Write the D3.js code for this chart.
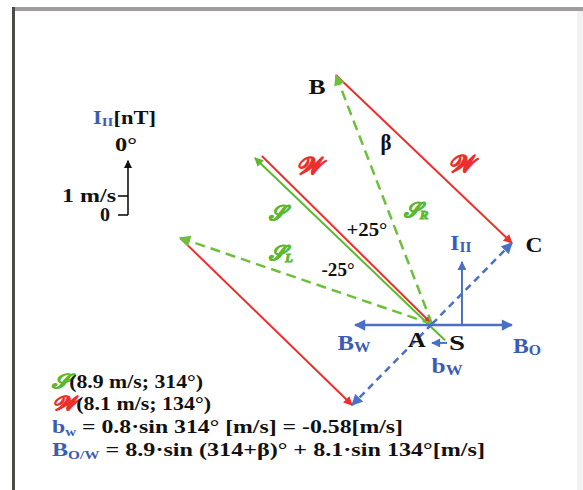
<!DOCTYPE html>
<html><head><meta charset="utf-8">
<script src="https://cdn.jsdelivr.net/npm/d3@7"></script>
<style>body{margin:0;background:#fff}svg{display:block}</style>
</head><body>
<script>
// ---- data (diagram units: m/s, x = east, y = north; A at origin) ----
const vecNames = ["S","W_par","W_BC","W_LD","S_R","S_L","AC","AD","B_W","B_O","I_II","b_w"];
const vecKind  = ["green","red","red","red","greenDash","greenDash","blueDash","blueDash","blue","blue","blue","blue"];
const vecFrom  = [[0.48,-0.6],[-6.30,6.22],[-3.56,9.22],[-9.33,3.19],[0,0],[0,0],[0,0],[0,0],[0,-0.04],[0,-0.04],[1.11,-0.04],[0.56,-0.70]];
const vecTo    = [[-6.56,6.15],[0,0],[2.96,3.0],[-2.96,-3.0],[-3.56,9.22],[-9.33,3.19],[2.96,3.0],[-2.96,-3.0],[-2.85,-0.04],[2.96,-0.04],[1.11,2.30],[0.0,-0.70]];

const labelText  = ["B","C","A","S","β","+25°","-25°"];
const labelPos   = [[-4.26,8.70],[3.78,2.85],[-0.56,-0.67],[0.93,-0.78],[-1.70,6.63],[-2.41,3.41],[-3.48,1.93]];
const labelWidth = [17,17,18,16,11,41,33];

const scriptLabels = ["𝒲","𝒲","𝒮","𝒮","𝒮"];
const scriptSubs   = ["","","","R","L"];
const scriptKind   = ["red","red","green","green","green"];
const scriptPos    = [[-4.56,5.78],[1.07,5.85],[-5.74,4.04],[-0.59,4.15],[-5.59,2.56]];

const blueLabels = ["I","B","B","b"];
const blueSubs   = ["II","W","O","W"];
const bluePos    = [[1.07,2.93],[-2.89,-0.78],[3.52,-0.89],[0.56,-1.63]];
const blueWidth  = [21,33,28,31];

const scaleTicks = [0, 1];
const scaleTickLabels = ["0", "1 m/s"];
const scaleTop = 2.85;

const legendSymbols = ["𝒮","𝒲"];
const legendValues  = ["(8.9 m/s; 314°)","(8.1 m/s; 134°)"];
const legendWidths  = [151,159,351,433];

// ---- drawing ----
const W = 583, H = 490;
const svg = d3.select("body").append("svg").attr("width", W).attr("height", H);
const x = d3.scaleLinear().domain([0, 1]).range([432, 459]);
const y = d3.scaleLinear().domain([0, 1]).range([324, 297]);

const colors = {green:"#5cb82e", red:"#ec2f2a", blue:"#4a6fc4", greenDash:"#6cc03a", blueDash:"#4a70c8", black:"#111"};
const textBlue = "#3b5cb5";
const serif = "'Liberation Serif','DejaVu Serif',serif";

// frame
svg.append("rect").attr("x",577).attr("y",11).attr("width",6).attr("height",H-11).attr("fill","#f2f2f2");
svg.append("line").attr("x1",12).attr("x2",W).attr("y1",9).attr("y2",9).attr("stroke","#a29b9b").attr("stroke-width",4);
svg.append("line").attr("x1",13.5).attr("x2",13.5).attr("y1",7).attr("y2",H).attr("stroke","#4d4a4a").attr("stroke-width",3);

const defs = svg.append("defs");
Object.entries(colors).forEach(([k,c]) => {
  defs.append("marker").attr("id","m-"+k).attr("viewBox","0 0 10 10").attr("refX",9).attr("refY",5)
    .attr("markerWidth",k==="black"?6:5).attr("markerHeight",k==="black"?5:4.5).attr("markerUnits","strokeWidth").attr("orient","auto")
    .append("path").attr("d","M0,0 L10,5 L0,10 Z").attr("fill",c);
});

const vecData = vecNames.map((n,i) => ({n, kind:vecKind[i], from:vecFrom[i], to:vecTo[i]}));
svg.append("g").selectAll("line").data(vecData).join("line")
  .attr("x1", d => x(d.from[0])).attr("y1", d => y(d.from[1]))
  .attr("x2", d => x(d.to[0])).attr("y2", d => y(d.to[1]))
  .attr("stroke", d => colors[d.kind])
  .attr("stroke-width", d => d.kind.includes("Dash") ? 2.5 : (d.n==="B_W"||d.n==="B_O" ? 2.5 : 2))
  .attr("stroke-dasharray", d => d.kind==="greenDash" ? "10,6" : d.kind==="blueDash" ? "7,5" : null)
  .attr("marker-end", d => `url(#m-${d.kind})`);

// black labels
svg.append("g").selectAll("text").data(labelText).join("text")
  .attr("x", (d,i) => x(labelPos[i][0]) - labelWidth[i]/2).attr("y", (d,i) => y(labelPos[i][1]))
  .attr("dominant-baseline","middle")
  .attr("font-family", serif).attr("font-weight","bold")
  .attr("font-size", (d,i) => i>=5 ? 18 : (d==="β" ? 23 : 20))
  .attr("textLength", (d,i) => labelWidth[i]).attr("lengthAdjust","spacingAndGlyphs")
  .attr("fill","#111").text(d => d);

// script labels
const gl = svg.append("g").selectAll("text").data(scriptLabels).join("text")
  .attr("x", (d,i) => x(scriptPos[i][0])).attr("y", (d,i) => y(scriptPos[i][1]))
  .attr("text-anchor","middle").attr("dominant-baseline","middle")
  .attr("font-family", serif).attr("font-weight","bold").attr("font-style","italic")
  .attr("font-size", (d,i) => scriptLabels[i]==="𝒲" ? 24 : 21)
  .attr("fill", (d,i) => colors[scriptKind[i]])
  .attr("stroke", (d,i) => colors[scriptKind[i]]).attr("stroke-width",0.9);
gl.append("tspan").text(d => d);
gl.append("tspan").attr("font-size",13).attr("dy",4).text((d,i) => scriptSubs[i]);

// blue labels
const bl = svg.append("g").selectAll("text").data(blueLabels).join("text")
  .attr("x", (d,i) => x(bluePos[i][0]) - blueWidth[i]/2).attr("y", (d,i) => y(bluePos[i][1]))
  .attr("dominant-baseline","middle")
  .attr("font-family", serif).attr("font-weight","bold")
  .attr("font-size", 21).attr("fill", textBlue)
  .attr("textLength", (d,i) => blueWidth[i]).attr("lengthAdjust","spacingAndGlyphs");
bl.append("tspan").text(d => d);
bl.append("tspan").attr("font-size",14).attr("dy",4).text((d,i) => blueSubs[i]);

// scale indicator
const sx = 128;
const sy = d3.scaleLinear().domain([0,1]).range([215,196]);
const sg = svg.append("g");
sg.append("line").attr("x1",sx).attr("x2",sx).attr("y1",sy(0)).attr("y2",sy(scaleTop))
  .attr("stroke","#111").attr("stroke-width",1.6).attr("marker-end","url(#m-black)");
sg.selectAll("line.t").data(scaleTicks).join("line").attr("class","t")
  .attr("x1",sx-10).attr("x2",sx).attr("y1",d=>sy(d)).attr("y2",d=>sy(d)).attr("stroke","#111").attr("stroke-width",1.6);
sg.selectAll("text.t").data(scaleTickLabels).join("text").attr("class","t")
  .attr("x",(d,i)=> i===0 ? 100 : 62).attr("y",(d,i)=>sy(scaleTicks[i])+2)
  .attr("dominant-baseline","middle")
  .attr("textLength",(d,i)=> i===0 ? 10 : 54).attr("lengthAdjust","spacingAndGlyphs")
  .attr("font-family",serif).attr("font-weight","bold").attr("font-size",18).attr("fill","#111").text(d=>d);
sg.append("text").attr("x",115).attr("y",147).attr("dominant-baseline","middle")
  .attr("textLength",22).attr("lengthAdjust","spacingAndGlyphs")
  .attr("font-family",serif).attr("font-weight","bold").attr("font-size",18).attr("fill","#111").text("0°");
const it = sg.append("text").attr("x",93).attr("y",120).attr("dominant-baseline","middle")
  .attr("textLength",63).attr("lengthAdjust","spacingAndGlyphs")
  .attr("font-family",serif).attr("font-weight","bold").attr("font-size",18);
it.append("tspan").attr("fill",textBlue).text("I");
it.append("tspan").attr("fill",textBlue).attr("font-size",12).attr("dy",3).text("II");
it.append("tspan").attr("fill","#111").attr("dy",-3).text("[nT]");

// legend
const lg = svg.append("g").attr("font-family",serif).attr("font-weight","bold").attr("font-size",19);
legendSymbols.forEach((s,i) => {
  const t = lg.append("text").attr("x",52).attr("y",388 + i*22)
    .attr("textLength",legendWidths[i]).attr("lengthAdjust","spacingAndGlyphs");
  t.append("tspan").attr("fill", i===0 ? colors.green : colors.red).attr("stroke", i===0 ? colors.green : colors.red)
    .attr("stroke-width",0.8).attr("font-style","italic").attr("font-size",20).text(s);
  t.append("tspan").attr("fill","#111").text(legendValues[i]);
});
const l3 = lg.append("text").attr("x",52).attr("y",433)
  .attr("textLength",legendWidths[2]).attr("lengthAdjust","spacingAndGlyphs");
l3.append("tspan").attr("fill",textBlue).text("b");
l3.append("tspan").attr("fill",textBlue).attr("font-size",12).attr("dy",3).text("w");
l3.append("tspan").attr("fill","#111").attr("dy",-3).text(" = 0.8·sin 314° [m/s]  =  -0.58[m/s]");
const l4 = lg.append("text").attr("x",52).attr("y",456)
  .attr("textLength",legendWidths[3]).attr("lengthAdjust","spacingAndGlyphs");
l4.append("tspan").attr("fill",textBlue).text("B");
l4.append("tspan").attr("fill",textBlue).attr("font-size",12).attr("dy",3).text("O/W");
l4.append("tspan").attr("fill","#111").attr("dy",-3).text(" = 8.9·sin (314+β)° + 8.1·sin 134°[m/s]");
</script>
</body></html>
